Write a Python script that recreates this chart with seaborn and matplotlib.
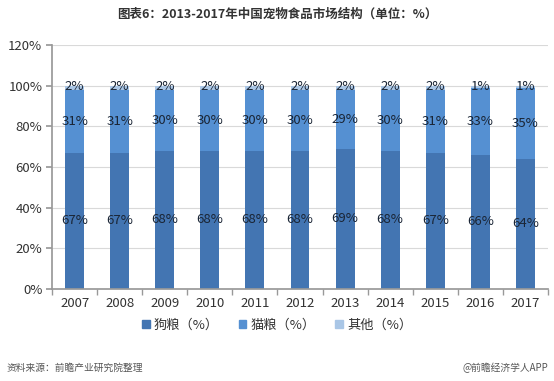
import numpy as np
import pandas as pd
import seaborn as sns
import matplotlib.pyplot as plt

years = ["2007", "2008", "2009", "2010", "2011", "2012", "2013", "2014", "2015", "2016", "2017"]
dog = [67, 67, 68, 68, 68, 68, 69, 68, 67, 66, 64]
cat = [31, 31, 30, 30, 30, 30, 29, 30, 31, 33, 35]
other = [2, 2, 2, 2, 2, 2, 2, 2, 2, 1, 1]
series_names = ["狗粮（%）", "猫粮（%）", "其他（%）"]
colors = ["#4375b2", "#5590d2", "#a9c6e6"]

sns.set_theme(style="white")
plt.rcParams['font.family'] = ['Noto Sans CJK SC', 'DejaVu Sans']

df = pd.DataFrame({"year": years, "dog": dog, "cat": cat, "other": other})
df["c_dog"] = df["dog"]
df["c_cat"] = df["dog"] + df["cat"]
df["c_other"] = df["c_cat"] + df["other"]

fig = plt.figure(figsize=(5.54, 3.81), dpi=100)
ax = fig.add_axes([0.094, 0.2415, 0.895, 0.6405])

# stacked bars via overlaid cumulative totals
for col, color in zip(["c_other", "c_cat", "c_dog"], colors[::-1]):
    sns.barplot(data=df, x="year", y=col, color=color, width=0.42,
                saturation=1, ax=ax, zorder=2, linewidth=0)

for i in range(len(years)):
    ax.text(i, dog[i] / 2, f"{dog[i]}%", ha="center", va="center", fontsize=9.5, color="#1a2535", zorder=3)
    ax.text(i, dog[i] + cat[i] / 2, f"{cat[i]}%", ha="center", va="center", fontsize=9.5, color="#1a2535", zorder=3)
    ax.text(i, 99.5, f"{other[i]}%", ha="center", va="center", fontsize=9.5, color="#1a2535", zorder=3)

ax.set_ylim(0, 120)
ax.set_xlim(-0.5, len(years) - 0.5)
ax.set_yticks(range(0, 121, 20))
ax.set_yticklabels([f"{v}%" for v in range(0, 121, 20)], fontsize=9.5, color="#333333")
ax.tick_params(axis="x", labelsize=9.5, labelcolor="#333333", length=0, pad=6)
ax.set_xticks(np.arange(-0.5, len(years), 1), minor=True)
ax.tick_params(axis="x", which="minor", length=4, color="#999999", bottom=True)
ax.tick_params(axis="y", length=4, color="#999999", left=True, pad=3)
ax.set_xlabel("")
ax.set_ylabel("")
ax.yaxis.grid(True, color="#d9d9d9", linewidth=0.8, zorder=0)
ax.set_axisbelow(True)
for s in ["top", "right"]:
    ax.spines[s].set_visible(False)
ax.spines["left"].set_color("#999999")
ax.spines["bottom"].set_color("#999999")

handles = [plt.Rectangle((0, 0), 1, 1, color=c) for c in colors]
fig.legend(handles, series_names, loc="center", bbox_to_anchor=(0.5, 0.147), ncol=3,
           frameon=False, fontsize=9.5, handlelength=0.6, handleheight=0.6,
           handletextpad=0.3, columnspacing=1.5, labelcolor="#333333")

fig.text(0.5, 0.962, "图表6：2013-2017年中国宠物食品市场结构（单位：%）", ha="center", va="center",
         fontsize=9, fontweight="bold", color="#333333")
fig.text(0.012, 0.035, "资料来源：前瞻产业研究院整理", ha="left", va="center",
         fontsize=7, style="italic", color="#555555")
fig.text(0.99, 0.035, "@前瞻经济学人APP", ha="right", va="center",
         fontsize=7, color="#555555")

fig.savefig("out.png", dpi=100)
